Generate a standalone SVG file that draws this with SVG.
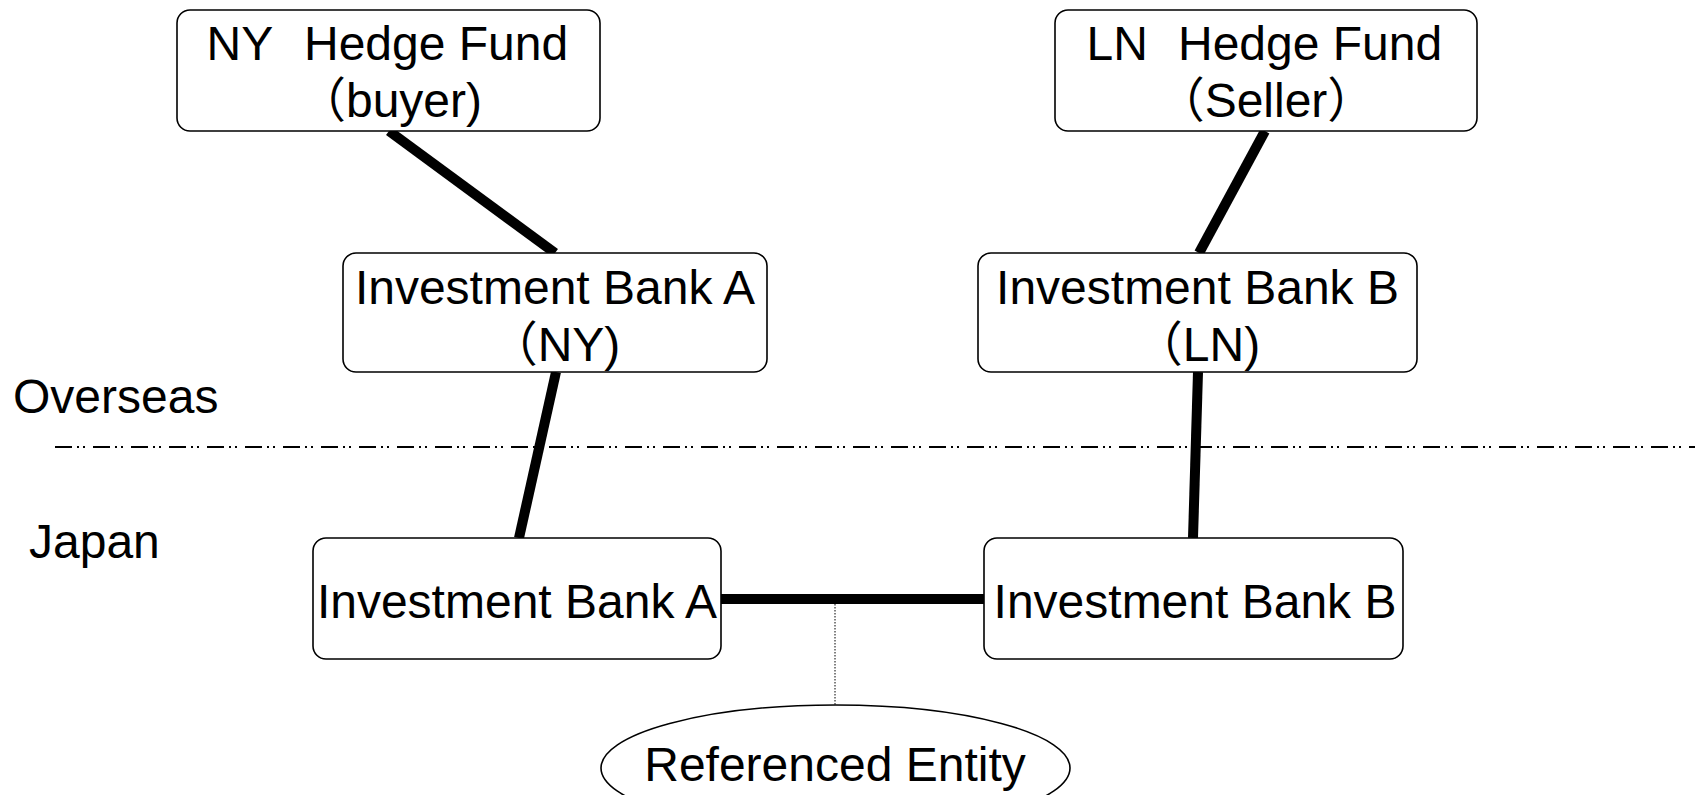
<svg xmlns="http://www.w3.org/2000/svg" width="1695" height="795" viewBox="0 0 1695 795">
<style>
.box{fill:#fff;stroke:#000;stroke-width:1.6}
.t{font-family:"Liberation Sans","Noto Sans CJK JP",Arial,sans-serif;font-size:48px;fill:#000}
.c{text-anchor:middle}
.conn{stroke:#000;stroke-width:10;fill:none}
</style>
<rect width="1695" height="795" fill="#fff"/>
<text class="t" x="13" y="413">Overseas</text>
<text class="t" x="29" y="558">Japan</text>
<line x1="55" y1="447" x2="1695" y2="447" stroke="#000" stroke-width="2" stroke-dasharray="17 5 2 4 2 8"/>
<g id="connectors">
<line class="conn" x1="389" y1="131" x2="555" y2="253"/>
<line class="conn" x1="1265" y1="131" x2="1199" y2="253"/>
<line class="conn" x1="556" y1="372" x2="519" y2="538"/>
<line class="conn" x1="1198" y1="372" x2="1193" y2="538"/>
<line class="conn" x1="721" y1="599" x2="984" y2="599"/>
<line x1="835" y1="604" x2="835" y2="705" stroke="#000" stroke-width="1" stroke-dasharray="1.5 1.5"/>
</g>
<g id="ny-hedge-fund">
<rect class="box" x="177" y="10" width="423" height="121" rx="13"/>
<text class="t" x="206.5" y="60">NY</text>
<text class="t" x="304" y="60">Hedge Fund</text>
<text class="t c" x="390" y="117">（buyer)</text>
</g>
<g id="ln-hedge-fund">
<rect class="box" x="1055" y="10" width="422" height="121" rx="13"/>
<text class="t" x="1086.5" y="60">LN</text>
<text class="t" x="1178" y="60">Hedge Fund</text>
<text class="t c" x="1266" y="117">（Seller）</text>
</g>
<g id="bank-a-ny">
<rect class="box" x="343" y="253" width="424" height="119" rx="13"/>
<text class="t c" x="555" y="304">Investment Bank A</text>
<text class="t c" x="555" y="361">（NY)</text>
</g>
<g id="bank-b-ln">
<rect class="box" x="978" y="253" width="439" height="119" rx="13"/>
<text class="t c" x="1197.5" y="304">Investment Bank B</text>
<text class="t c" x="1197.5" y="361">（LN)</text>
</g>
<g id="bank-a-jp">
<rect class="box" x="313" y="538" width="408" height="121" rx="13"/>
<text class="t c" x="517" y="618">Investment Bank A</text>
</g>
<g id="bank-b-jp">
<rect class="box" x="984" y="538" width="419" height="121" rx="13"/>
<text class="t c" x="1195" y="618">Investment Bank B</text>
</g>
<g id="referenced-entity">
<ellipse cx="835.5" cy="768" rx="234.5" ry="63" fill="#fff" stroke="#000" stroke-width="1.6"/>
<text class="t c" x="835" y="781">Referenced Entity</text>
</g>
</svg>
